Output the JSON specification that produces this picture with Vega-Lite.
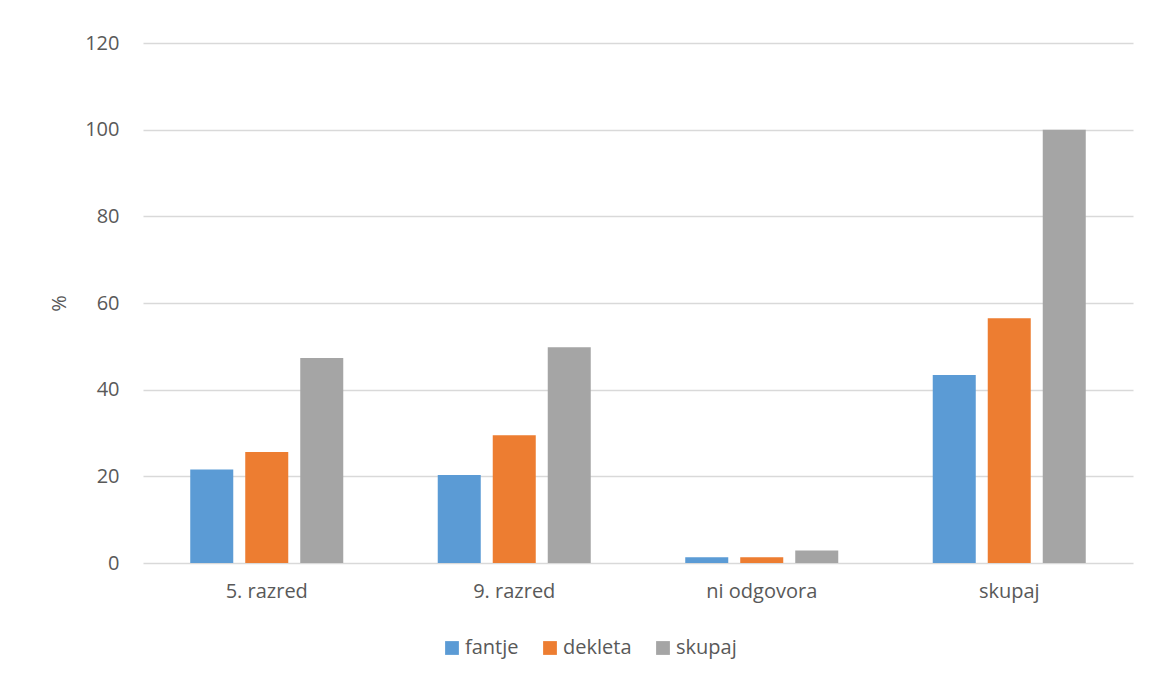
{
  "$schema": "https://vega.github.io/schema/vega-lite/v6.json",
  "width": 990,
  "height": 520,
  "autosize": {"type": "none"},
  "padding": {"left": 143, "top": 43, "right": 16, "bottom": 115},
  "background": "white",
  "config": {
    "view": {"stroke": null},
    "font": "Open Sans",
    "axis": {"labelFont": "Open Sans", "titleFont": "Open Sans", "labelColor": "#595959", "titleColor": "#595959", "labelFontSize": 20, "titleFontSize": 20, "titleFontWeight": "normal"},
    "legend": {"labelFont": "Open Sans", "labelColor": "#595959", "labelFontSize": 20}
  },
  "data": {
    "values": [
      {"kategorija": "5. razred", "skupina": "fantje", "odstotek": 21.6},
      {"kategorija": "5. razred", "skupina": "dekleta", "odstotek": 25.6},
      {"kategorija": "5. razred", "skupina": "skupaj", "odstotek": 47.3},
      {"kategorija": "9. razred", "skupina": "fantje", "odstotek": 20.3},
      {"kategorija": "9. razred", "skupina": "dekleta", "odstotek": 29.5},
      {"kategorija": "9. razred", "skupina": "skupaj", "odstotek": 49.8},
      {"kategorija": "ni odgovora", "skupina": "fantje", "odstotek": 1.3},
      {"kategorija": "ni odgovora", "skupina": "dekleta", "odstotek": 1.3},
      {"kategorija": "ni odgovora", "skupina": "skupaj", "odstotek": 2.9},
      {"kategorija": "skupaj", "skupina": "fantje", "odstotek": 43.4},
      {"kategorija": "skupaj", "skupina": "dekleta", "odstotek": 56.5},
      {"kategorija": "skupaj", "skupina": "skupaj", "odstotek": 100}
    ]
  },
  "mark": {"type": "bar"},
  "encoding": {
    "x": {
      "field": "kategorija",
      "type": "nominal",
      "sort": ["5. razred", "9. razred", "ni odgovora", "skupaj"],
      "scale": {"paddingInner": 0, "paddingOuter": 0},
      "axis": {"title": null, "labelAngle": 0, "domain": false, "ticks": false, "labelPadding": 18}
    },
    "xOffset": {
      "field": "skupina",
      "type": "nominal",
      "sort": ["fantje", "dekleta", "skupaj"],
      "scale": {"paddingInner": 0.218, "paddingOuter": 0.859}
    },
    "y": {
      "field": "odstotek",
      "type": "quantitative",
      "scale": {"domain": [0, 120]},
      "axis": {
        "title": "%",
        "values": [0, 20, 40, 60, 80, 100, 120],
        "domain": false,
        "ticks": false,
        "labelPadding": 24,
        "titlePadding": 15,
        "gridColor": "#d9d9d9",
        "gridWidth": 1.5
      }
    },
    "color": {
      "field": "skupina",
      "type": "nominal",
      "sort": ["fantje", "dekleta", "skupaj"],
      "scale": {"domain": ["fantje", "dekleta", "skupaj"], "range": ["#5b9bd5", "#ed7d31", "#a5a5a5"]},
      "legend": {
        "title": null,
        "orient": "none",
        "direction": "horizontal",
        "legendX": 299,
        "legendY": 595,
        "symbolType": "square",
        "symbolSize": 190,
        "symbolStrokeWidth": 0,
        "labelOffset": 3,
        "columnPadding": 21
      }
    }
  }
}
